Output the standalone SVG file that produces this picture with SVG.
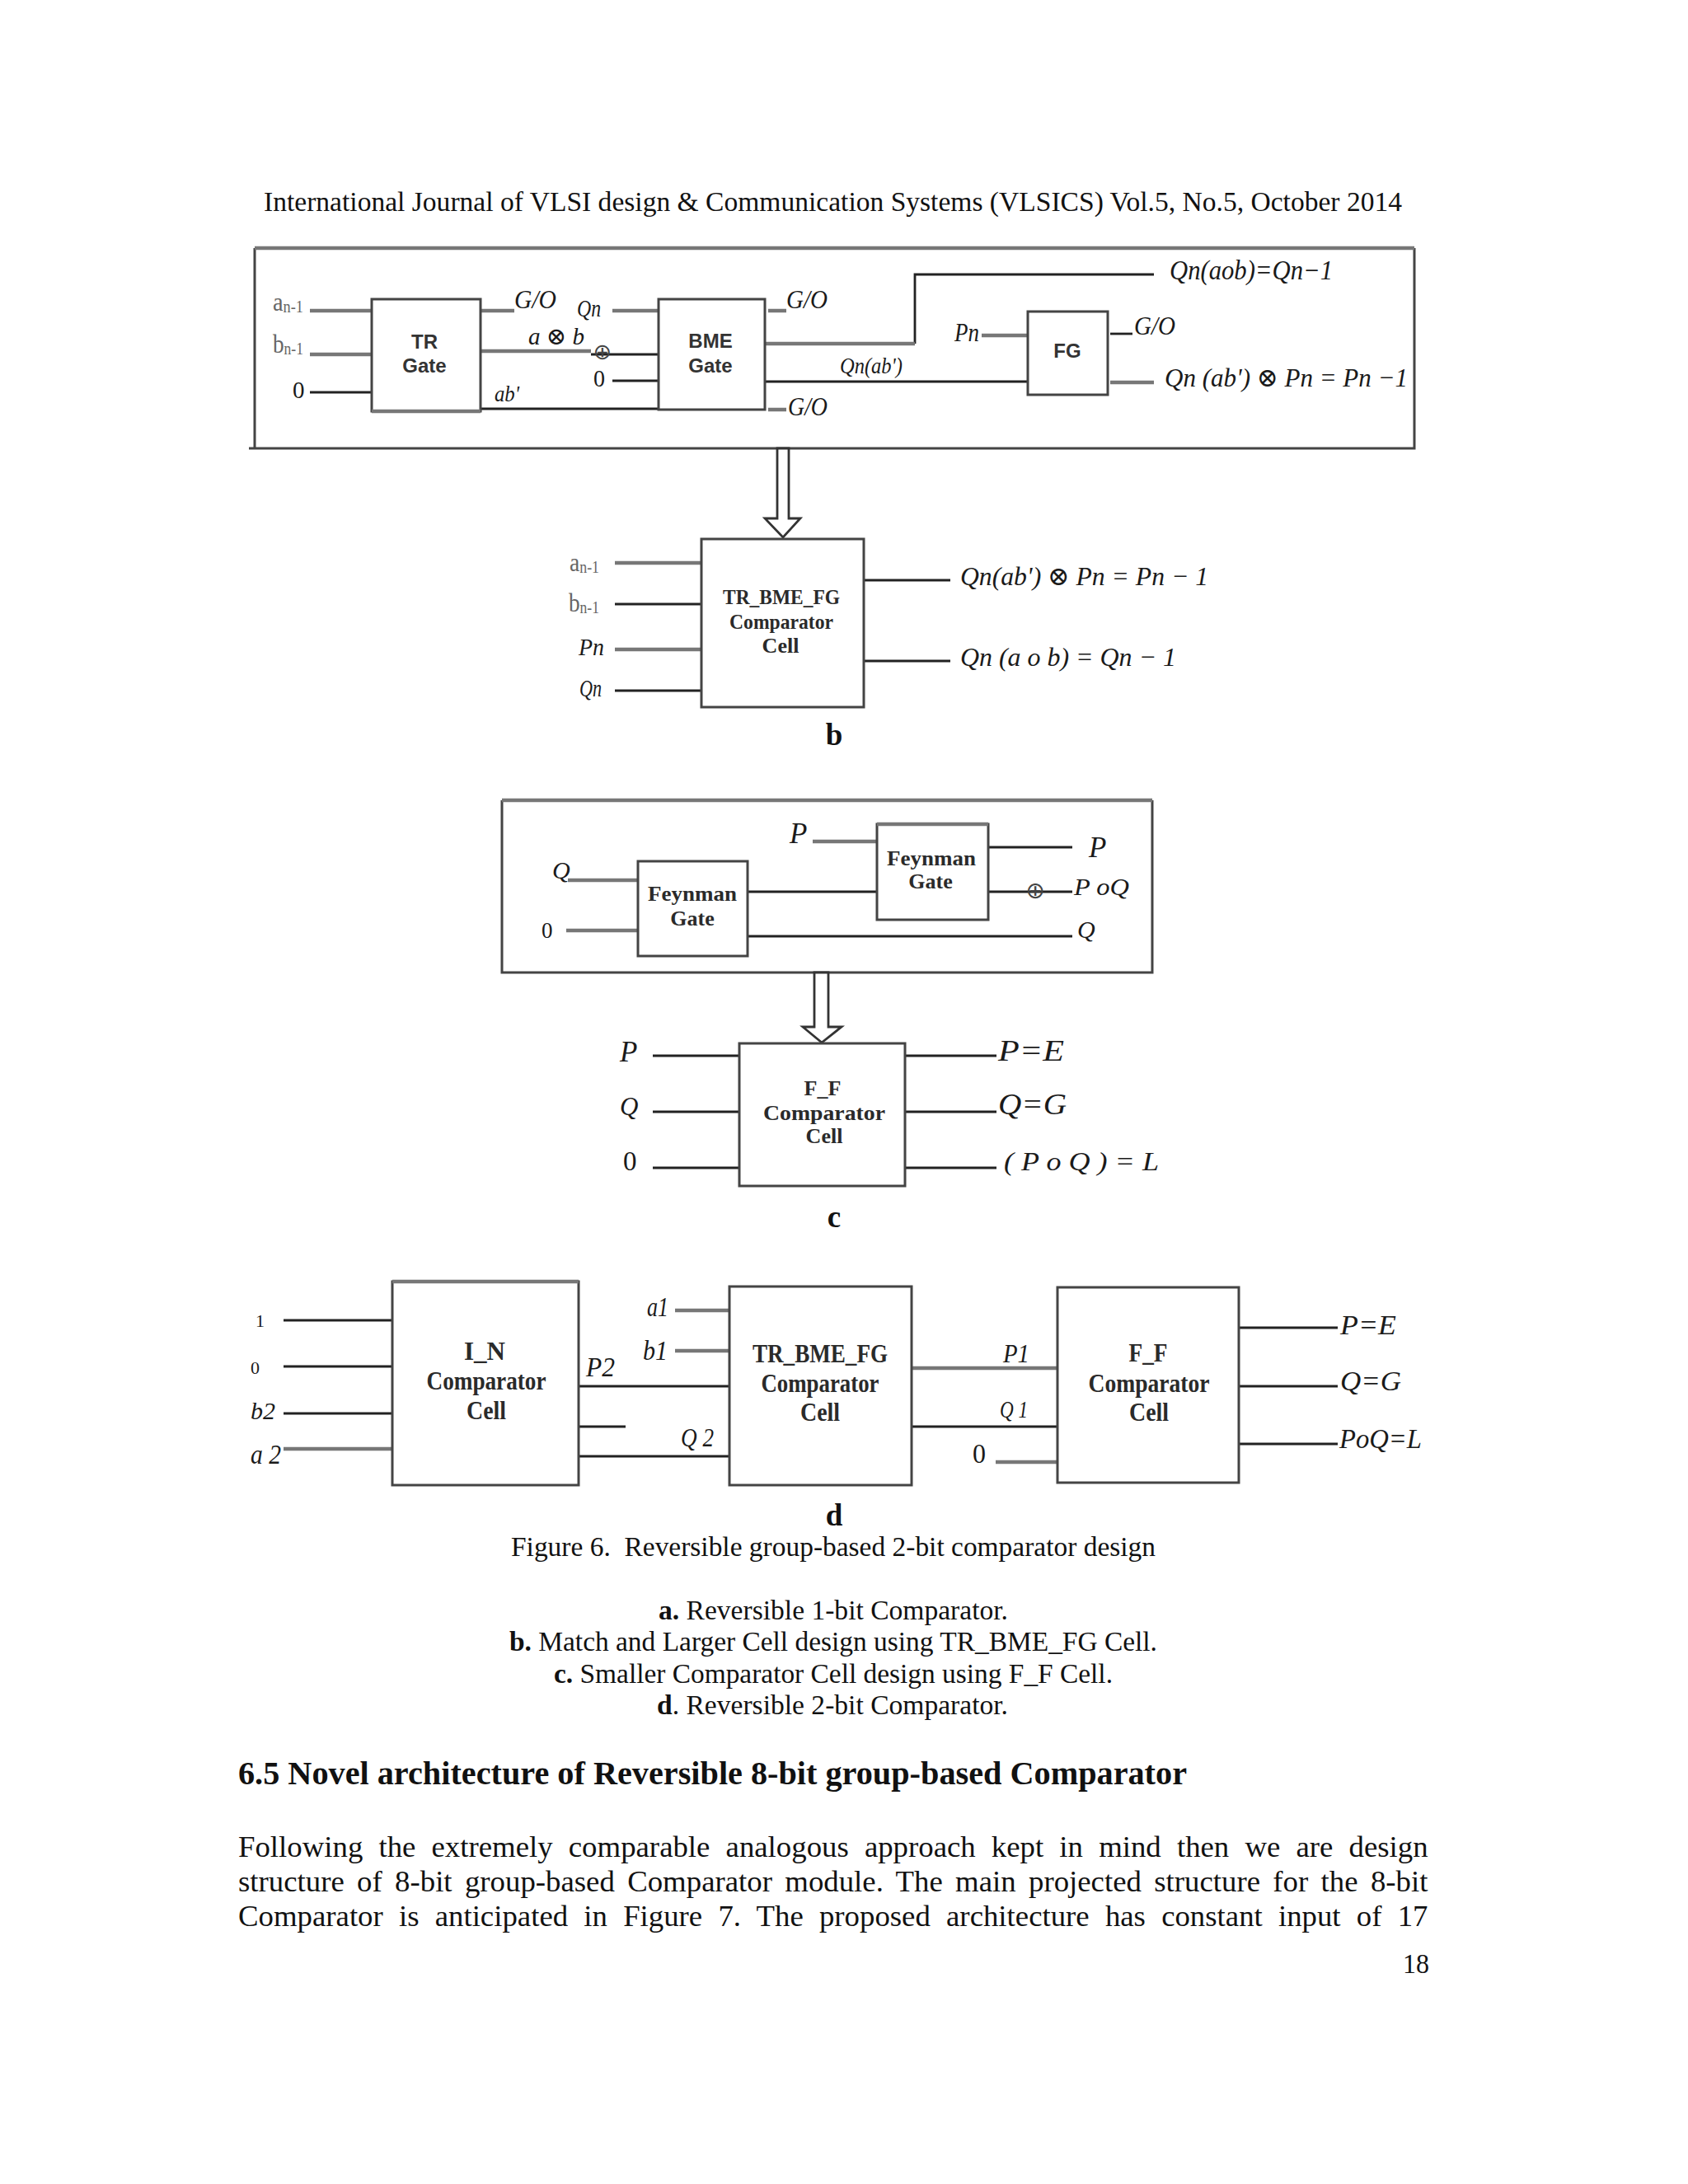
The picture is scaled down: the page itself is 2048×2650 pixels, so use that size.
<svg xmlns="http://www.w3.org/2000/svg" width="2048" height="2650" viewBox="0 0 2048 2650">
<style>
text{font-family:"Liberation Serif","DejaVu Serif",serif;fill:#111}
.pg{font-size:33.5px}
.body{font-size:36.8px}
.hd{font-size:40px;font-weight:700}
.cap{font-size:37px;font-weight:700}
.m{font-style:italic;fill:#1a1a1a}
.sub{fill:#666}
.s{font-family:"Liberation Sans","DejaVu Sans",sans-serif;font-size:24px;font-weight:700;fill:#333;text-anchor:middle}
.n{font-size:26px;font-weight:700;fill:#2a2a2a;text-anchor:middle}
.box{fill:#fff;stroke:#444;stroke-width:3}
.frame{fill:none;stroke:#444;stroke-width:3}
.k{fill:none;stroke:#222;stroke-width:2.8}
.g{fill:none;stroke:#777;stroke-width:4.5}
.arrow{fill:#fff;stroke:#333;stroke-width:2.8}
</style>
<rect width="2048" height="2650" fill="#fff"/>

<g id="page-text">
<text class="pg" x="320" y="256" textLength="1381" lengthAdjust="spacingAndGlyphs">International Journal of VLSI design &amp; Communication Systems (VLSICS) Vol.5, No.5, October 2014</text>
<text class="cap" x="1012" y="904" text-anchor="middle">b</text>
<text class="cap" x="1012" y="1489" text-anchor="middle">c</text>
<text class="cap" x="1012" y="1851" text-anchor="middle">d</text>
<text class="pg" x="620" y="1888" textLength="782" lengthAdjust="spacingAndGlyphs" xml:space="preserve">Figure 6.  Reversible group-based 2-bit comparator design</text>
<text class="pg" x="799" y="1965" textLength="424" lengthAdjust="spacingAndGlyphs"><tspan font-weight="700">a.</tspan> Reversible 1-bit Comparator.</text>
<text class="pg" x="618" y="2003" textLength="786" lengthAdjust="spacingAndGlyphs"><tspan font-weight="700">b.</tspan> Match and Larger Cell design using TR_BME_FG Cell.</text>
<text class="pg" x="672" y="2042" textLength="678" lengthAdjust="spacingAndGlyphs"><tspan font-weight="700">c.</tspan> Smaller Comparator Cell design using F_F Cell.</text>
<text class="pg" x="797" y="2080" textLength="426" lengthAdjust="spacingAndGlyphs"><tspan font-weight="700">d</tspan>. Reversible 2-bit Comparator.</text>
<text class="hd" x="289" y="2165" textLength="1151" lengthAdjust="spacingAndGlyphs">6.5 Novel architecture of Reversible 8-bit group-based Comparator</text>
<text class="body" x="289" y="2253" word-spacing="9.94">Following the extremely comparable analogous approach kept in mind then we are design</text>
<text class="body" x="289" y="2295" word-spacing="6.15">structure of 8-bit group-based Comparator module. The main projected structure for the 8-bit</text>
<text class="body" x="289" y="2337" word-spacing="10">Comparator is anticipated in Figure 7. The proposed architecture has constant input of 17</text>
<text class="pg" x="1702" y="2394" textLength="32" lengthAdjust="spacingAndGlyphs">18</text>
</g>

<g id="connectors">
<!-- a: expanded -->
<path class="g" d="M376 377H451M376 430H451"/><path class="k" d="M376 476H451"/>
<path class="g" d="M583 377H624M583 426H717"/><path class="k" d="M717 430H799M583 496H799"/>
<path class="g" d="M743 377H799"/><path class="k" d="M743 462H799"/>
<path class="g" d="M932 377H954M932 497H954"/>
<path class="k" d="M1110 417V333H1400"/><path class="g" d="M928 417H1110"/>
<path class="k" d="M928 463H1247"/>
<path class="g" d="M1191 407H1247M1347 464H1400"/><path class="k" d="M1347 405H1374"/>
<!-- b -->
<path class="g" d="M746 683H851M746 788H851"/><path class="k" d="M746 733H851M746 838H851M1048 704H1153M1048 802H1153"/>
<!-- c expanded -->
<path class="g" d="M986 1021H1064M689 1068H774M687 1129H774"/>
<path class="k" d="M907 1082H1064M907 1136H1301M1199 1028H1301M1199 1082H1301"/>
<!-- c -->
<path class="k" d="M792 1281H897M792 1349H897M792 1417H897M1098 1281H1209M1098 1349H1209M1098 1417H1209"/>
<!-- d -->
<path class="k" d="M344 1602H476M344 1658H476M344 1715H476M702 1682H885M702 1731H759M702 1767H885"/>
<path class="g" d="M344 1758H476M819 1590H885M819 1639H885M1106 1660H1283M1208 1774H1283"/>
<path class="k" d="M1106 1731H1283M1503 1611H1623M1503 1682H1623M1503 1752H1623"/>
</g>

<g id="frame-a"><path class="frame" d="M302 544H1716V301M309 301V544"/><path class="g" d="M309 301H1716"/></g>
<g id="arrow-a"><path class="arrow" d="M943 544V629H928L950 652L971 629H957V544Z"/></g>
<g id="frame-c"><path class="frame" d="M609 971V1180H1398V971"/><path class="g" d="M609 971H1398"/></g>
<g id="arrow-c"><path class="arrow" d="M988 1180V1246H974L997 1265L1021 1246H1005V1180Z"/></g>

<g id="tr-gate"><rect class="box" x="451" y="363" width="132" height="136"/><path class="g" d="M451 499H583"/>
<text class="s" x="515" y="423">TR</text><text class="s" x="515" y="452">Gate</text></g>
<g id="bme-gate"><rect class="box" x="799" y="363" width="129" height="134"/>
<text class="s" x="862" y="422">BME</text><text class="s" x="862" y="452">Gate</text></g>
<g id="fg-gate"><rect class="box" x="1247" y="378" width="97" height="101"/>
<text class="s" x="1295" y="434">FG</text></g>
<g id="tr-bme-fg-small"><rect class="box" x="851" y="654" width="197" height="204"/>
<text class="n" x="948" y="733" textLength="142" lengthAdjust="spacingAndGlyphs">TR_BME_FG</text>
<text class="n" x="948" y="763" textLength="126" lengthAdjust="spacingAndGlyphs">Comparator</text>
<text class="n" x="947" y="792">Cell</text></g>
<g id="feynman-left"><rect class="box" x="774" y="1045" width="133" height="115"/>
<text class="n" x="840" y="1093" textLength="108" lengthAdjust="spacingAndGlyphs">Feynman</text>
<text class="n" x="840" y="1123">Gate</text></g>
<g id="feynman-right"><rect class="box" x="1064" y="1000" width="135" height="116"/><path class="g" d="M1064 1000H1199"/>
<text class="n" x="1130" y="1050" textLength="108" lengthAdjust="spacingAndGlyphs">Feynman</text>
<text class="n" x="1129" y="1078">Gate</text></g>
<g id="ff-small"><rect class="box" x="897" y="1266" width="201" height="173"/>
<text class="n" x="998" y="1329">F_F</text>
<text class="n" x="1000" y="1359" textLength="148" lengthAdjust="spacingAndGlyphs">Comparator</text>
<text class="n" x="1000" y="1387">Cell</text></g>
<g id="in-cell"><rect class="box" x="476" y="1555" width="226" height="247"/><path class="g" d="M476 1555H702"/>
<text class="n" x="588" y="1650" style="font-size:31px">I_N</text>
<text class="n" x="590" y="1686" style="font-size:31px" textLength="145" lengthAdjust="spacingAndGlyphs">Comparator</text>
<text class="n" x="590" y="1722" style="font-size:31px" textLength="48" lengthAdjust="spacingAndGlyphs">Cell</text></g>
<g id="tr-bme-fg-cell"><rect class="box" x="885" y="1561" width="221" height="241"/>
<text class="n" x="995" y="1653" style="font-size:31px" textLength="164" lengthAdjust="spacingAndGlyphs">TR_BME_FG</text>
<text class="n" x="995" y="1689" style="font-size:31px" textLength="143" lengthAdjust="spacingAndGlyphs">Comparator</text>
<text class="n" x="995" y="1724" style="font-size:31px" textLength="48" lengthAdjust="spacingAndGlyphs">Cell</text></g>
<g id="ff-cell"><rect class="box" x="1283" y="1562" width="220" height="237"/>
<text class="n" x="1393" y="1652" style="font-size:31px" textLength="47" lengthAdjust="spacingAndGlyphs">F_F</text>
<text class="n" x="1394" y="1689" style="font-size:31px" textLength="147" lengthAdjust="spacingAndGlyphs">Comparator</text>
<text class="n" x="1394" y="1724" style="font-size:31px" textLength="48" lengthAdjust="spacingAndGlyphs">Cell</text></g>

<g id="labels-a">
<text class="sub" x="331" y="377" font-size="31" textLength="37" lengthAdjust="spacingAndGlyphs">a<tspan font-size="20" dy="2">n-1</tspan></text>
<text class="sub" x="331" y="428" font-size="31" textLength="37" lengthAdjust="spacingAndGlyphs">b<tspan font-size="20" dy="2">n-1</tspan></text>
<text class="m" x="355" y="483" font-size="29" style="font-style:normal">0</text>
<text class="m" x="624" y="374" font-size="31" textLength="51" lengthAdjust="spacingAndGlyphs">G/O</text>
<text class="m" x="700" y="384" font-size="29" textLength="29" lengthAdjust="spacingAndGlyphs">Qn</text>
<text class="m" x="641" y="418" font-size="29" textLength="68" lengthAdjust="spacingAndGlyphs">a ⊗ b</text>
<text x="731" y="436" font-size="27" text-anchor="middle" style="font-family:'DejaVu Sans',sans-serif;fill:#444">⊕</text>
<text class="m" x="720" y="469" font-size="29" textLength="14" lengthAdjust="spacingAndGlyphs" style="font-style:normal">0</text>
<text class="m" x="600" y="487" font-size="27" textLength="30" lengthAdjust="spacingAndGlyphs">ab'</text>
<text class="m" x="954" y="374" font-size="31" textLength="50" lengthAdjust="spacingAndGlyphs">G/O</text>
<text class="m" x="956" y="504" font-size="31" textLength="48" lengthAdjust="spacingAndGlyphs">G/O</text>
<text class="m" x="1019" y="453" font-size="27" textLength="76" lengthAdjust="spacingAndGlyphs">Qn(ab')</text>
<text class="m" x="1419" y="339" font-size="33" textLength="198" lengthAdjust="spacingAndGlyphs">Qn(aob)=Qn−1</text>
<text class="m" x="1158" y="414" font-size="31" textLength="30" lengthAdjust="spacingAndGlyphs">Pn</text>
<text class="m" x="1376" y="406" font-size="31" textLength="50" lengthAdjust="spacingAndGlyphs">G/O</text>
<text class="m" x="1413" y="469" font-size="32" textLength="295" lengthAdjust="spacingAndGlyphs">Qn (ab') ⊗ Pn = Pn −1</text>
</g>
<g id="labels-b">
<text class="sub" x="691" y="693" font-size="31" textLength="36" lengthAdjust="spacingAndGlyphs">a<tspan font-size="20" dy="2">n-1</tspan></text>
<text class="sub" x="690" y="742" font-size="31" textLength="37" lengthAdjust="spacingAndGlyphs">b<tspan font-size="20" dy="2">n-1</tspan></text>
<text class="m" x="702" y="795" font-size="29" textLength="31" lengthAdjust="spacingAndGlyphs">Pn</text>
<text class="m" x="703" y="845" font-size="29" textLength="27" lengthAdjust="spacingAndGlyphs">Qn</text>
<text class="m" x="1165" y="710" font-size="32" textLength="301" lengthAdjust="spacingAndGlyphs">Qn(ab') ⊗ Pn = Pn − 1</text>
<text class="m" x="1165" y="808" font-size="32" textLength="262" lengthAdjust="spacingAndGlyphs">Qn (a o b) = Qn  − 1</text>
</g>
<g id="labels-c-expanded">
<text class="m" x="958" y="1023" font-size="35">P</text>
<text class="m" x="670" y="1066" font-size="30">Q</text>
<text class="m" x="657" y="1138" font-size="27" style="font-style:normal">0</text>
<text class="m" x="1321" y="1040" font-size="35">P</text>
<text x="1256" y="1090" font-size="28" text-anchor="middle" style="font-family:'DejaVu Sans',sans-serif;fill:#444">⊕</text>
<text class="m" x="1303" y="1086" font-size="30" textLength="67" lengthAdjust="spacingAndGlyphs">P oQ</text>
<text class="m" x="1307" y="1138" font-size="30">Q</text>
</g>
<g id="labels-c">
<text class="m" x="752" y="1288" font-size="35">P</text>
<text class="m" x="752" y="1353" font-size="31">Q</text>
<text class="m" x="756" y="1420" font-size="33" style="font-style:normal">0</text>
<text class="m" x="1211" y="1287" font-size="35" textLength="80" lengthAdjust="spacingAndGlyphs">P=E</text>
<text class="m" x="1211" y="1352" font-size="35" textLength="83" lengthAdjust="spacingAndGlyphs">Q=G</text>
<text class="m" x="1218" y="1420" font-size="32" textLength="188" lengthAdjust="spacingAndGlyphs">( P o Q ) = L</text>
</g>
<g id="labels-d">
<text class="m" x="310" y="1610" font-size="22" style="font-style:normal">1</text>
<text class="m" x="304" y="1667" font-size="22" style="font-style:normal">0</text>
<text class="m" x="304" y="1722" font-size="30" textLength="30" lengthAdjust="spacingAndGlyphs">b2</text>
<text class="m" x="304" y="1776" font-size="33" textLength="37" lengthAdjust="spacingAndGlyphs">a 2</text>
<text class="m" x="711" y="1670" font-size="33" textLength="35" lengthAdjust="spacingAndGlyphs">P2</text>
<text class="m" x="785" y="1597" font-size="33" textLength="26" lengthAdjust="spacingAndGlyphs">a1</text>
<text class="m" x="780" y="1650" font-size="33" textLength="30" lengthAdjust="spacingAndGlyphs">b1</text>
<text class="m" x="826" y="1755" font-size="31" textLength="40" lengthAdjust="spacingAndGlyphs">Q 2</text>
<text class="m" x="1217" y="1653" font-size="32" textLength="32" lengthAdjust="spacingAndGlyphs">P1</text>
<text class="m" x="1213" y="1720" font-size="30" textLength="34" lengthAdjust="spacingAndGlyphs">Q 1</text>
<text class="m" x="1180" y="1775" font-size="33" textLength="16" lengthAdjust="spacingAndGlyphs" style="font-style:normal">0</text>
<text class="m" x="1626" y="1619" font-size="33" textLength="68" lengthAdjust="spacingAndGlyphs">P=E</text>
<text class="m" x="1626" y="1687" font-size="33" textLength="74" lengthAdjust="spacingAndGlyphs">Q=G</text>
<text class="m" x="1625" y="1757" font-size="33" textLength="100" lengthAdjust="spacingAndGlyphs">PoQ=L</text>
</g>
</svg>
